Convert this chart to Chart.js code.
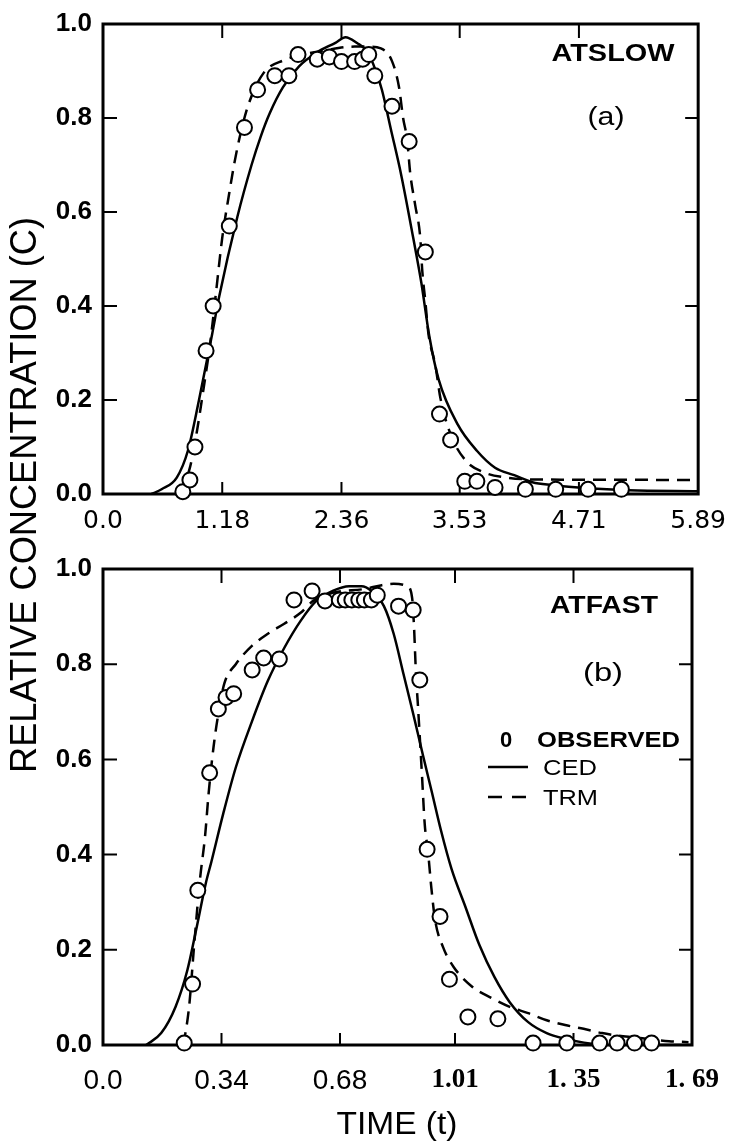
<!DOCTYPE html>
<html><head><meta charset="utf-8">
<script src="https://cdn.jsdelivr.net/npm/chart.js@4.4.0/dist/chart.umd.min.js"></script>
<style>
html,body{margin:0;padding:0;background:#fff;}
#wrap{position:relative;width:741px;height:1143px;overflow:hidden;background:#fff;}
canvas{position:absolute;left:0;}
</style></head><body>
<div id="wrap">
<canvas id="c1" width="741" height="1143" style="top:0"></canvas>
<canvas id="c2" width="741" height="598" style="top:545px"></canvas>
</div>
<script>
// ---------- DATA ----------
const yTitle = 'RELATIVE CONCENTRATION (C)';
const xTitle = 'TIME (t)';
const panelTitles = ['ATSLOW', 'ATFAST'];
const panelLetters = ['(a)', '(b)'];
const seriesNames = ['OBSERVED', 'CED', 'TRM'];
const legendMarker = '0';

const yTickVals = [0, 0.2, 0.4, 0.6, 0.8, 1.0];
const yTickLabels = ['0.0', '0.2', '0.4', '0.6', '0.8', '1.0'];

const slowXTickVals = [0, 1.18, 2.36, 3.53, 4.71, 5.89];
const slowXTickLabels = ['0.0', '1.18', '2.36', '3.53', '4.71', '5.89'];
const fastXTickVals = [0, 0.34, 0.68, 1.01, 1.35, 1.69];
const fastXTickLabels = ['0.0', '0.34', '0.68', '1.01', '1. 35', '1. 69'];

// (a) ATSLOW
const slowObsT = [0.79, 0.86, 0.91, 1.02, 1.09, 1.25, 1.40, 1.53, 1.70, 1.84, 1.93, 2.12, 2.24, 2.36, 2.49, 2.57, 2.63, 2.69, 2.86, 3.03, 3.19, 3.33, 3.44, 3.58, 3.70, 3.88, 4.18, 4.48, 4.80, 5.13];
const slowObsC = [0.005, 0.03, 0.10, 0.305, 0.40, 0.57, 0.78, 0.86, 0.89, 0.89, 0.935, 0.925, 0.93, 0.92, 0.92, 0.925, 0.935, 0.89, 0.825, 0.75, 0.515, 0.17, 0.115, 0.027, 0.027, 0.014, 0.01, 0.01, 0.01, 0.01];
const slowCedT = [0.48, 0.58, 0.73, 0.84, 0.95, 1.08, 1.15, 1.33, 1.47, 1.56, 1.65, 1.78, 1.94, 2.12, 2.30, 2.40, 2.51, 2.62, 2.70, 2.76, 2.85, 2.95, 3.07, 3.15, 3.23, 3.32, 3.51, 3.70, 3.88, 4.07, 4.25, 4.44, 4.80, 5.20, 5.89];
const slowCedC = [0.0, 0.01, 0.035, 0.092, 0.20, 0.34, 0.42, 0.59, 0.70, 0.76, 0.81, 0.865, 0.91, 0.94, 0.96, 0.972, 0.96, 0.94, 0.90, 0.86, 0.775, 0.68, 0.545, 0.45, 0.335, 0.245, 0.148, 0.092, 0.056, 0.04, 0.025, 0.019, 0.012, 0.008, 0.006];
const slowTrmT = [0.76, 0.86, 0.93, 0.99, 1.06, 1.12, 1.18, 1.25, 1.30, 1.36, 1.44, 1.59, 1.79, 1.94, 2.20, 2.49, 2.62, 2.75, 2.86, 2.93, 2.97, 3.01, 3.04, 3.09, 3.14, 3.16, 3.19, 3.22, 3.29, 3.34, 3.44, 3.59, 3.77, 3.99, 4.25, 5.89];
const slowTrmC = [0.0, 0.056, 0.134, 0.217, 0.32, 0.432, 0.545, 0.641, 0.704, 0.766, 0.829, 0.896, 0.923, 0.933, 0.944, 0.952, 0.952, 0.948, 0.921, 0.865, 0.80, 0.754, 0.683, 0.614, 0.545, 0.474, 0.41, 0.342, 0.273, 0.203, 0.127, 0.071, 0.046, 0.035, 0.031, 0.03];

// (b) ATFAST
const fastObsT = [0.233, 0.257, 0.272, 0.306, 0.331, 0.353, 0.375, 0.428, 0.461, 0.506, 0.548, 0.600, 0.637, 0.678, 0.695, 0.714, 0.734, 0.750, 0.770, 0.787, 0.848, 0.890, 0.909, 0.930, 0.967, 0.994, 1.047, 1.133, 1.234, 1.331, 1.425, 1.475, 1.525, 1.574];
const fastObsC = [0.004, 0.128, 0.325, 0.572, 0.706, 0.73, 0.738, 0.788, 0.813, 0.811, 0.935, 0.954, 0.933, 0.935, 0.935, 0.935, 0.935, 0.935, 0.935, 0.945, 0.922, 0.914, 0.767, 0.411, 0.27, 0.138, 0.059, 0.055, 0.004, 0.004, 0.004, 0.004, 0.004, 0.004];
const fastCedT = [0.124, 0.167, 0.208, 0.242, 0.267, 0.295, 0.311, 0.345, 0.381, 0.428, 0.473, 0.52, 0.567, 0.612, 0.659, 0.706, 0.742, 0.77, 0.806, 0.834, 0.862, 0.89, 0.917, 0.944, 0.97, 1.00, 1.04, 1.08, 1.123, 1.167, 1.22, 1.273, 1.326, 1.38, 1.45, 1.69];
const fastCedC = [0.0, 0.025, 0.08, 0.157, 0.241, 0.34, 0.385, 0.486, 0.583, 0.681, 0.765, 0.834, 0.891, 0.933, 0.954, 0.964, 0.964, 0.954, 0.922, 0.864, 0.78, 0.696, 0.612, 0.53, 0.45, 0.37, 0.29, 0.21, 0.143, 0.09, 0.048, 0.025, 0.013, 0.005, 0.0, 0.0];
const fastTrmT = [0.231, 0.247, 0.262, 0.278, 0.293, 0.303, 0.317, 0.331, 0.348, 0.381, 0.428, 0.473, 0.52, 0.567, 0.603, 0.659, 0.75, 0.80, 0.834, 0.873, 0.887, 0.892, 0.898, 0.904, 0.915, 0.923, 0.933, 0.942, 0.953, 0.976, 1.006, 1.06, 1.114, 1.167, 1.22, 1.273, 1.326, 1.379, 1.432, 1.486, 1.539, 1.624, 1.68];
const fastTrmC = [0.0, 0.08, 0.214, 0.346, 0.44, 0.528, 0.625, 0.696, 0.759, 0.80, 0.839, 0.864, 0.885, 0.908, 0.933, 0.95, 0.958, 0.966, 0.969, 0.964, 0.939, 0.885, 0.78, 0.709, 0.57, 0.465, 0.403, 0.331, 0.262, 0.205, 0.164, 0.122, 0.099, 0.08, 0.067, 0.052, 0.042, 0.034, 0.025, 0.019, 0.015, 0.008, 0.006];

// ---------- HELPERS ----------
const pts = (xs, ys) => xs.map((v, i) => ({x: v, y: ys[i]}));
const SANS = '"Liberation Sans", Arial, Helvetica, sans-serif';

function fitText(ctx, t, x, cy, fs, weight, w, align, family) {
  ctx.save();
  ctx.font = weight + ' ' + fs + 'px ' + (family || SANS);
  ctx.fillStyle = '#000';
  ctx.textBaseline = 'alphabetic';
  ctx.textAlign = 'left';
  const m = ctx.measureText(t).width;
  const sx = w ? w / m : 1;
  const left = align === 'center' ? x - m * sx / 2 : x;
  ctx.translate(left, cy + 0.36 * fs);
  ctx.scale(sx, 1);
  ctx.fillText(t, 0, 0);
  ctx.restore();
}

const framePlugin = {
  id: 'frame',
  beforeDatasetsDraw(chart) {
    const {ctx, chartArea: a, scales: {x, y}} = chart;
    ctx.save();
    ctx.strokeStyle = '#000';
    ctx.lineWidth = 2;
    ctx.beginPath();
    x.ticks.forEach((t, i) => {
      if (i === 0 || i === x.ticks.length - 1) return;
      const p = x.getPixelForValue(t.value);
      ctx.moveTo(p, a.bottom); ctx.lineTo(p, a.bottom - 12);
      ctx.moveTo(p, a.top); ctx.lineTo(p, a.top + 14);
    });
    y.ticks.forEach((t, i) => {
      if (i === 0 || i === y.ticks.length - 1) return;
      const p = y.getPixelForValue(t.value);
      ctx.moveTo(a.left, p); ctx.lineTo(a.left + 14, p);
      ctx.moveTo(a.right, p); ctx.lineTo(a.right - 13, p);
    });
    ctx.stroke();
    ctx.lineWidth = 3;
    ctx.strokeRect(a.left, a.top, a.right - a.left, a.bottom - a.top);
    ctx.restore();
  }
};

function makeDatasets(obsT, obsC, cedT, cedC, trmT, trmC) {
  return [
    {label: seriesNames[0], data: pts(obsT, obsC), showLine: false, pointRadius: 7.5,
     pointBorderWidth: 2, pointBackgroundColor: '#fff', pointBorderColor: '#000', clip: false},
    {label: seriesNames[1], data: pts(cedT, cedC), showLine: true, pointRadius: 0, borderColor: '#000',
     borderWidth: 2.5, cubicInterpolationMode: 'monotone', fill: false},
    {label: seriesNames[2], data: pts(trmT, trmC), showLine: true, pointRadius: 0, borderColor: '#000',
     borderWidth: 2.5, borderDash: [13, 8], cubicInterpolationMode: 'monotone', fill: false}
  ];
}

function makeOptions(xMax, xVals, xLabels, xFont, xPad, xHeight, padding) {
  return {
    responsive: false, animation: false, devicePixelRatio: 1, events: [],
    layout: {padding},
    plugins: {legend: {display: false}, tooltip: {enabled: false}, title: {display: false}},
    scales: {
      x: {
        type: 'linear', min: 0, max: xMax,
        grid: {display: false, drawTicks: false}, border: {display: false},
        afterBuildTicks: s => { s.ticks = xVals.map(v => ({value: v})); },
        afterFit: s => { s.height = xHeight; },
        ticks: {autoSkip: false, maxRotation: 0, minRotation: 0, padding: xPad, color: '#000',
          font: xFont, callback: (v, i) => xLabels[i]}
      },
      y: {
        type: 'linear', min: 0, max: 1,
        grid: {display: false, drawTicks: false}, border: {display: false},
        afterBuildTicks: s => { s.ticks = yTickVals.map(v => ({value: v})); },
        afterFit: s => { s.width = 103; },
        ticks: {padding: 11, color: '#000',
          font: {family: SANS, size: 26, weight: 'bold', lineHeight: 1},
          callback: (v, i) => yTickLabels[i]}
      }
    }
  };
}

// ---------- PANEL (a) ----------
const textA = {
  id: 'textA',
  afterDraw(chart) {
    const ctx = chart.ctx;
    fitText(ctx, panelTitles[0], 613, 52, 24, 'bold', 123, 'center');
    fitText(ctx, panelLetters[0], 606, 116, 26, 'normal', 37, 'center');
    ctx.save();
    ctx.translate(23, 495);
    ctx.rotate(-Math.PI / 2);
    fitText(ctx, yTitle, 0, 0, 36, 'normal', 556, 'center');
    ctx.restore();
  }
};

new Chart(document.getElementById('c1'), {
  type: 'scatter',
  data: {datasets: makeDatasets(slowObsT, slowObsC, slowCedT, slowCedC, slowTrmT, slowTrmC)},
  options: makeOptions(5.89, slowXTickVals, slowXTickLabels,
    {family: '"DejaVu Sans", sans-serif', size: 25, weight: 'normal', lineHeight: 1}, 15, 51,
    {left: 0, right: 30, top: 15, bottom: 598}),
  plugins: [framePlugin, textA]
});

// ---------- PANEL (b) ----------
const textB = {
  id: 'textB',
  afterDraw(chart) {
    const ctx = chart.ctx;
    fitText(ctx, panelTitles[1], 604, 59, 24, 'bold', 108, 'center');
    fitText(ctx, panelLetters[1], 603, 127, 26, 'normal', 40, 'center');
    fitText(ctx, xTitle, 397, 577, 32, 'normal', 121, 'center');
    // legend
    const ds = chart.data.datasets;
    fitText(ctx, legendMarker, 506, 194, 22, 'bold', null, 'center');
    fitText(ctx, ds[0].label, 537, 194, 22, 'bold', 143, 'left');
    ctx.save();
    ctx.strokeStyle = '#000';
    ctx.lineWidth = 2.5;
    ctx.beginPath(); ctx.moveTo(488, 222); ctx.lineTo(528, 222); ctx.stroke();
    ctx.setLineDash([14, 10]);
    ctx.beginPath(); ctx.moveTo(488, 252); ctx.lineTo(528, 252); ctx.stroke();
    ctx.restore();
    fitText(ctx, ds[1].label, 543, 222, 22, 'normal', 54, 'left');
    fitText(ctx, ds[2].label, 543, 252, 22, 'normal', 55, 'left');
  }
};

new Chart(document.getElementById('c2'), {
  type: 'scatter',
  data: {datasets: makeDatasets(fastObsT, fastObsC, fastCedT, fastCedC, fastTrmT, fastTrmC)},
  options: makeOptions(1.69, fastXTickVals, fastXTickLabels,
    c => c.index >= 3
      ? {family: '"Liberation Serif", "Times New Roman", serif', size: 27, weight: 'bold', lineHeight: 1}
      : {family: SANS, size: 28, weight: 'normal', lineHeight: 1},
    22, 98,
    {left: 0, right: 30, top: 23, bottom: 0}),
  plugins: [framePlugin, textB]
});
</script>
</body></html>
